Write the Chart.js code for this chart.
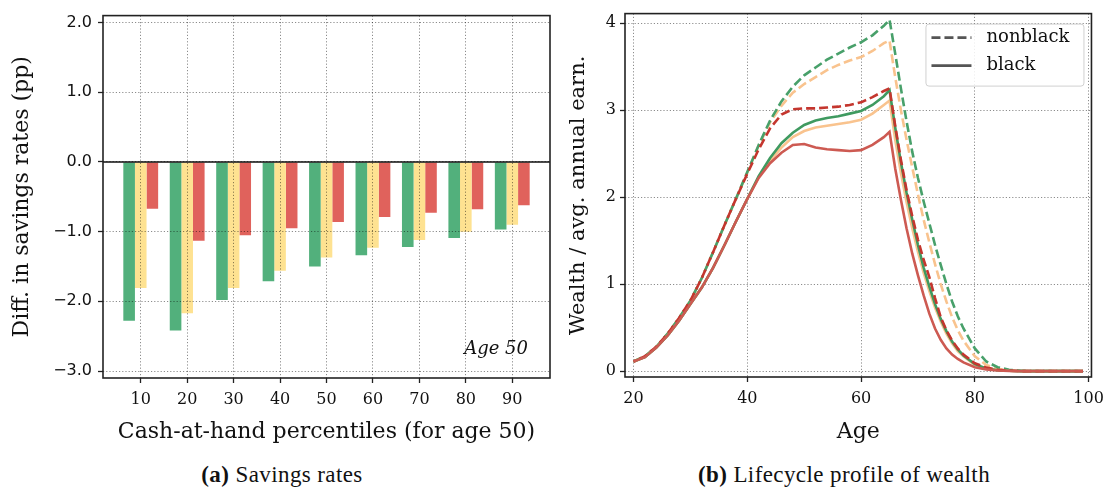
<!DOCTYPE html>
<html>
<head>
<meta charset="utf-8">
<script src="https://cdn.jsdelivr.net/npm/chart.js@4.4.0/dist/chart.umd.min.js"></script>
<style>
body { margin: 0; background: #fff; width: 1111px; height: 488px; position: relative; overflow: hidden; }
#left { position: absolute; left: 0; top: 0; }
#right { position: absolute; left: 560px; top: 0; }
.cap { position: absolute; top: 462px; line-height: 26px; font-family: "Liberation Serif", serif; font-size: 23px;
       letter-spacing: 0.4px; color: #111; transform: translateX(-50%); white-space: nowrap; }
</style>
</head>
<body>
<canvas id="left" width="560" height="450"></canvas>
<canvas id="right" width="551" height="450"></canvas>
<div class="cap" style="left:282px"><b>(a)</b> Savings rates</div>
<div class="cap" style="left:844px"><b>(b)</b> Lifecycle profile of wealth</div>
<script>
// panel (a): savings rate differences by cash-at-hand percentile
const pctiles = [10, 20, 30, 40, 50, 60, 70, 80, 90];
const greenBars = [-2.28, -2.42, -1.98, -1.71, -1.50, -1.34, -1.22, -1.09, -0.97];
const yellowBars = [-1.81, -2.17, -1.81, -1.56, -1.37, -1.23, -1.12, -1.00, -0.90];
const redBars = [-0.67, -1.13, -1.05, -0.95, -0.86, -0.79, -0.73, -0.68, -0.62];
const barYTicks = [-3, -2, -1, 0, 1, 2];

// panel (b): wealth / avg annual earnings over the lifecycle
const ages = [20, 22, 24, 26, 28, 30, 32, 34, 36, 38, 40, 42, 44, 46, 48, 50, 52, 54, 56, 58, 60, 62, 64, 65,
  66, 67, 68, 69, 70, 71, 72, 73, 74, 75, 76, 77, 78, 80, 82, 84, 86, 88, 90, 95, 99];
const nbGreen = [0.11, 0.17, 0.28, 0.43, 0.61, 0.81, 1.07, 1.37, 1.68, 1.98, 2.29, 2.60,
  2.88, 3.10, 3.27, 3.40, 3.49, 3.58, 3.65, 3.72, 3.78, 3.86, 3.97, 4.04,
  3.65, 3.25, 2.87, 2.52, 2.22, 1.95, 1.70, 1.45, 1.22, 1.00, 0.80, 0.63, 0.49,
  0.26, 0.11, 0.045, 0.015, 0.005, 0, 0, 0];
const nbPeach = [0.11, 0.17, 0.28, 0.43, 0.61, 0.81, 1.07, 1.37, 1.68, 1.98, 2.28, 2.59,
  2.86, 3.05, 3.20, 3.30, 3.38, 3.46, 3.52, 3.57, 3.61, 3.68, 3.77, 3.80,
  3.38, 3.00, 2.66, 2.34, 2.03, 1.74, 1.48, 1.23, 1.00, 0.80, 0.62, 0.47, 0.35,
  0.17, 0.07, 0.025, 0.008, 0, 0, 0, 0];
const nbRed = [0.11, 0.17, 0.28, 0.43, 0.61, 0.81, 1.07, 1.37, 1.68, 1.98, 2.27, 2.55,
  2.79, 2.95, 3.01, 3.02, 3.02, 3.03, 3.04, 3.06, 3.09, 3.15, 3.22, 3.25,
  2.82, 2.43, 2.08, 1.78, 1.51, 1.28, 1.08, 0.84, 0.62, 0.47, 0.35, 0.26, 0.19,
  0.09, 0.04, 0.015, 0.005, 0, 0, 0, 0];
const bGreen = [0.11, 0.16, 0.27, 0.41, 0.58, 0.77, 0.96, 1.19, 1.45, 1.72, 1.98, 2.24,
  2.45, 2.62, 2.74, 2.83, 2.88, 2.91, 2.93, 2.96, 2.99, 3.06, 3.16, 3.23,
  2.80, 2.40, 2.05, 1.74, 1.45, 1.19, 0.97, 0.77, 0.60, 0.46, 0.34, 0.25, 0.18,
  0.08, 0.03, 0.01, 0.003, 0, 0, 0, 0];
const bPeach = [0.11, 0.16, 0.27, 0.41, 0.58, 0.77, 0.96, 1.19, 1.45, 1.72, 1.98, 2.23,
  2.42, 2.57, 2.69, 2.76, 2.80, 2.82, 2.84, 2.86, 2.89, 2.96, 3.06, 3.11,
  2.66, 2.28, 1.94, 1.64, 1.37, 1.13, 0.92, 0.73, 0.57, 0.43, 0.32, 0.23, 0.17,
  0.07, 0.03, 0.01, 0.003, 0, 0, 0, 0];
const bRed = [0.11, 0.16, 0.27, 0.41, 0.58, 0.77, 0.96, 1.19, 1.45, 1.72, 1.98, 2.22,
  2.39, 2.51, 2.60, 2.61, 2.57, 2.55, 2.54, 2.53, 2.54, 2.60, 2.69, 2.75,
  2.33, 1.97, 1.64, 1.35, 1.10, 0.87, 0.66, 0.49, 0.36, 0.26, 0.19, 0.14, 0.10,
  0.045, 0.02, 0.007, 0.002, 0, 0, 0, 0];
const ageTicks = [20, 40, 60, 80, 100];
const wealthTicks = [0, 1, 2, 3, 4];
const legendLabels = ['nonblack', 'black'];

Chart.defaults.animation = false;
Chart.defaults.color = '#111';

const gridStyle = { color: 'rgba(0,0,0,0.45)', lineWidth: 1, tickLength: 5, tickColor: '#222', tickWidth: 1.3, tickBorderDash: [] };
const borderStyle = { display: false, dash: [1.2, 2] };
const serif = '"DejaVu Serif", serif';

const frame = {
  id: 'frame',
  afterDraw(chart) {
    const { ctx, chartArea: a } = chart;
    ctx.save();
    ctx.strokeStyle = '#222';
    ctx.lineWidth = 1.6;
    ctx.strokeRect(a.left, a.top, a.right - a.left, a.bottom - a.top);
    ctx.restore();
  }
};

const zeroLine = {
  id: 'zeroLine',
  afterDatasetsDraw(chart) {
    const { ctx, chartArea: a } = chart;
    const y = chart.scales.y.getPixelForValue(0);
    ctx.save();
    ctx.strokeStyle = '#111';
    ctx.lineWidth = 1.5;
    ctx.beginPath();
    ctx.moveTo(a.left, y);
    ctx.lineTo(a.right, y);
    ctx.stroke();
    ctx.restore();
  }
};

const ageNote = {
  id: 'ageNote',
  afterDraw(chart) {
    const { ctx, chartArea: a } = chart;
    ctx.save();
    ctx.font = 'italic 18px ' + serif;
    ctx.fillStyle = '#111';
    ctx.textAlign = 'right';
    ctx.textBaseline = 'middle';
    ctx.fillText('Age 50', a.right - 22, a.bottom - 29);
    ctx.restore();
  }
};

new Chart(document.getElementById('left'), {
  type: 'bar',
  data: {
    datasets: [
      { data: pctiles.map((p, i) => ({ x: p, y: greenBars[i] })), backgroundColor: '#52b07c' },
      { data: pctiles.map((p, i) => ({ x: p, y: yellowBars[i] })), backgroundColor: '#fee291' },
      { data: pctiles.map((p, i) => ({ x: p, y: redBars[i] })), backgroundColor: '#e0625c' }
    ]
  },
  options: {
    responsive: false,
    layout: { padding: { top: 11, right: 10, left: 0, bottom: 0 } },
    plugins: { legend: { display: false }, tooltip: { enabled: false } },
    datasets: { bar: { categoryPercentage: 0.75, barPercentage: 1.0, borderWidth: 0 } },
    scales: {
      x: {
        type: 'linear', min: 1.875, max: 98.125, offset: false,
        grid: { ...gridStyle, offset: false, z: 1 }, border: borderStyle,
        afterBuildTicks: s => { s.ticks = pctiles.map(v => ({ value: v })); },
        afterFit: s => { s.height = 72; },
        ticks: { font: { family: serif, size: 16 }, color: '#111', padding: 7, autoSkip: false, maxRotation: 0, callback: v => String(v) },
        title: { display: true, text: 'Cash-at-hand percentiles (for age 50)', font: { family: serif, size: 22 }, color: '#111', padding: { top: 0, bottom: 5 } }
      },
      y: {
        min: -3.1, max: 2.1,
        grid: { ...gridStyle, z: 1 }, border: borderStyle,
        afterBuildTicks: s => { s.ticks = barYTicks.map(v => ({ value: v })); },
        afterFit: s => { s.width = 103; },
        ticks: { font: { family: '"DejaVu Sans", sans-serif', size: 16 }, color: '#111', padding: 6,
          callback: v => (v < 0 ? '\u2212' : '') + Math.abs(v).toFixed(1) },
        title: { display: true, text: 'Diff. in savings rates (pp)', font: { family: serif, size: 22 }, color: '#111', padding: { top: 9, bottom: 0 } }
      }
    }
  },
  plugins: [frame, zeroLine, ageNote]
});

const legendBox = {
  id: 'legendBox',
  afterDraw(chart) {
    const { ctx, chartArea: a } = chart;
    const w = 158, h = 62, x = a.right - 8 - w, y = a.top + 10;
    ctx.save();
    ctx.fillStyle = 'rgba(255,255,255,0.85)';
    ctx.strokeStyle = '#d0d0d0';
    ctx.lineWidth = 1;
    ctx.beginPath();
    ctx.roundRect(x + 0.5, y + 0.5, w, h, 3);
    ctx.fill();
    ctx.stroke();
    legendLabels.forEach((t, i) => {
      const ly = y + 14 + i * 28;
      ctx.setLineDash(i === 0 ? [9, 4] : []);
      ctx.strokeStyle = '#555';
      ctx.lineWidth = 2.6;
      ctx.beginPath();
      ctx.moveTo(x + 6, ly);
      ctx.lineTo(x + 46, ly);
      ctx.stroke();
      ctx.setLineDash([]);
      ctx.fillStyle = '#111';
      ctx.font = '18px ' + serif;
      ctx.textBaseline = 'middle';
      ctx.fillText(t, x + 61, ly);
    });
    ctx.restore();
  }
};

const series = (vals, color, dash, offset, order) => ({
  data: ages.map((a, i) => ({ x: a, y: vals[i] })),
  borderColor: color, borderWidth: 2.6, borderDash: dash, borderDashOffset: offset,
  pointRadius: 0, tension: 0, order: order, borderCapStyle: 'butt', fill: false
});

new Chart(document.getElementById('right'), {
  type: 'line',
  data: {
    datasets: [
      series(nbPeach, '#f9c38e', [9, 4], 0, 5),
      series(nbGreen, '#48a06a', [9, 4], 0, 4),
      series(bPeach, '#f9c38e', [], 0, 3),
      series(bGreen, '#3f9a60', [], 0, 2),
      series(nbRed, '#c4362e', [9, 4], 6.5, 1),
      series(bRed, '#cd5a52', [], 0, 0)
    ]
  },
  options: {
    responsive: false,
    layout: { padding: { top: 11, right: 18, left: 0, bottom: 0 } },
    plugins: { legend: { display: false }, tooltip: { enabled: false } },
    scales: {
      x: {
        type: 'linear', min: 18.5, max: 100.5,
        grid: gridStyle, border: borderStyle,
        afterBuildTicks: s => { s.ticks = ageTicks.map(v => ({ value: v })); },
        afterFit: s => { s.height = 73; },
        ticks: { font: { family: serif, size: 16 }, color: '#111', padding: 7, autoSkip: false, maxRotation: 0, callback: v => String(v) },
        title: { display: true, text: 'Age', font: { family: serif, size: 22 }, color: '#111', padding: { top: 0, bottom: 5 } }
      },
      y: {
        min: -0.068, max: 4.11,
        grid: gridStyle, border: borderStyle,
        afterBuildTicks: s => { s.ticks = wealthTicks.map(v => ({ value: v })); },
        afterFit: s => { s.width = 65; },
        ticks: { font: { family: serif, size: 16 }, color: '#111', padding: 4, callback: v => String(v) },
        title: { display: true, text: 'Wealth / avg. annual earn.', font: { family: serif, size: 21 }, color: '#111', padding: { top: 6, bottom: 0 } }
      }
    }
  },
  plugins: [frame, legendBox]
});
</script>
</body>
</html>
